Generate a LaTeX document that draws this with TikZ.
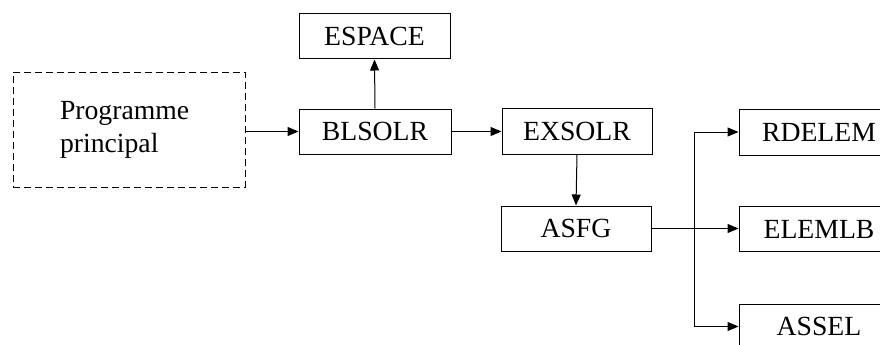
\documentclass[tikz,border=0pt]{standalone}
\usepackage{fontspec}
\setmainfont{Liberation Serif}
\usetikzlibrary{arrows.meta}
\begin{document}
\begin{tikzpicture}[x=1pt,y=-1pt,
  box/.style={draw,line width=1pt,inner sep=0pt,font=\fontsize{27.7}{32}\selectfont,minimum height=45pt},
  dbox/.style={draw,line width=1pt,dash pattern=on 7pt off 4pt,inner xsep=47pt,inner ysep=0pt,
    text width=138pt,align=left,minimum height=115pt,font=\fontsize{27.7}{33}\selectfont},
  arr/.style={line width=1pt,-{Triangle[length=11pt,width=9pt]}},
  ln/.style={line width=1pt}]
\useasboundingbox (0,0) rectangle (880,345);
\clip (0,0) rectangle (880,345);
\node[dbox] (prog) at (129,129.5) {Programme\\principal};
\node[box,minimum width=151pt] (espace) at (374.5,36.5) {ESPACE};
\node[box,minimum width=152pt] (blsolr) at (375,131.5) {BLSOLR};
\node[box,minimum width=150pt,minimum height=46pt] (exsolr) at (577,131) {EXSOLR};
\node[box,minimum width=150pt] (asfg) at (576,228.5) {ASFG};
\node[box,minimum width=160pt,minimum height=46pt] (rdelem) at (819,132) {RDELEM};
\node[box,minimum width=160pt] (elemlb) at (819,229) {ELEMLB};
\node[box,minimum width=160pt] (assel) at (819,326.5) {ASSEL};
\coordinate (br) at (694,0);
\draw[arr] (prog.east |- blsolr.west) -- (blsolr.west);
\draw[arr] (blsolr.north) -- (espace.south);
\draw[arr] (blsolr.east) -- (exsolr.west |- blsolr.east);
\draw[arr] (exsolr.south) -- (asfg.north);
\draw[arr] (asfg.east) -- (elemlb.west |- asfg.east);
\draw[ln] (br |- rdelem.west) -- (br |- assel.west);
\draw[arr] (br |- rdelem.west) -- (rdelem.west);
\draw[arr] (br |- assel.west) -- (assel.west);
\end{tikzpicture}
\end{document}
